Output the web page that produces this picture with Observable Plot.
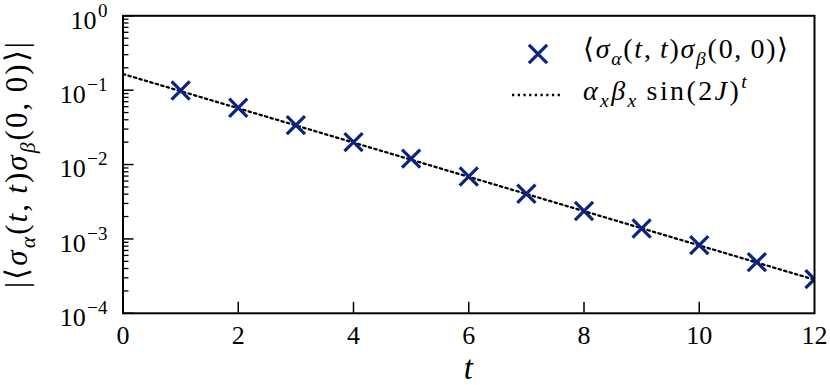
<!DOCTYPE html>
<html><head><meta charset="utf-8">
<script src="https://cdn.jsdelivr.net/npm/d3@7"></script>
<script src="https://cdn.jsdelivr.net/npm/@observablehq/plot@0.6"></script>
<style>
html,body{margin:0;padding:0;background:#fff;}
#chart{position:relative;width:830px;height:385px;}
</style></head><body><div id="chart"></div>
<script>
// ---- data ----
const tValues = [1, 2, 3, 4, 5, 6, 7, 8, 9, 10, 11, 12];
const correlator = [0.0991, 0.0580, 0.0339, 0.0200, 0.0120, 0.00692, 0.00405, 0.00237, 0.00138, 0.000826, 0.000488, 0.000288];
const fitT = [0, 12];
const fitValues = [0.165, 0.000283];
const xTickValues = [0, 2, 4, 6, 8, 10, 12];
const xInnerTicks = [2, 4, 6, 8, 10];
const yTickValues = [1e-4, 1e-3, 1e-2, 1e-1, 1];
const yTickBases = ["10", "10", "10", "10", "10"];
const yTickExponents = ["\u22124", "\u22123", "\u22122", "\u22121", "0"];

// ---- layout ----
const W = 830, H = 385, mL = 122.5, mR = 16, mT = 15.3, mB = 72.2;
const innerW = W - mL - mR, innerH = H - mT - mB;
const markColor = "#0c2380";
const dotR = 8.3;

const yMinor = [];
for (let e = -4; e < 0; e++) for (let k = 2; k <= 9; k++) yMinor.push(k * Math.pow(10, e));

const points = tValues.map((t, i) => ({t, v: correlator[i]}));
const fit = fitT.map((t, i) => ({t, v: fitValues[i]}));

const chart = Plot.plot({
  width: W, height: H,
  marginLeft: mL, marginRight: mR, marginTop: mT, marginBottom: mB,
  style: {background: "#fff", color: "#000", overflow: "visible"},
  x: {domain: [0, 12]},
  y: {type: "log", domain: [1e-4, 1]},
  marks: [
    Plot.ruleY(yMinor, {y: d => d, insetRight: innerW - 6, stroke: "#000", strokeWidth: 1.3}),
    Plot.ruleY(yTickValues, {y: d => d, insetRight: innerW - 11, stroke: "#000", strokeWidth: 1.5}),
    Plot.ruleX(xInnerTicks, {x: d => d, insetTop: innerH - 11, stroke: "#000", strokeWidth: 1.5}),
    Plot.line(fit, {x: "t", y: "v", stroke: "#000", strokeWidth: 2.3, strokeDasharray: "2.3,3.4"}),
    Plot.dot(points, {x: "t", y: "v", symbol: "times", r: dotR, stroke: markColor, strokeWidth: 3.2, clip: true}),
    Plot.frame({stroke: "#000", strokeWidth: 2}),
    Plot.axisX({ticks: xTickValues, tickSize: 0, tickPadding: 12, fontSize: 26, label: null, tickFormat: d => String(d)}),
    Plot.axisY({ticks: yTickValues, tickSize: 0, tickPadding: 15.5, fontSize: 26, label: null, dy: 4.4,
      tickFormat: d => { const i = yTickValues.indexOf(d); return yTickBases[i] + "^" + yTickExponents[i]; }})
  ]
});
// use the page's default (serif) font for every text
chart.removeAttribute("font-family");
chart.style.fontFamily = "inherit";
document.getElementById("chart").appendChild(chart);

const svg = d3.select(chart);
svg.selectAll("[font-family]").attr("font-family", null);

// superscripts on y tick labels
svg.selectAll('g[aria-label="y-axis tick label"] text').each(function() {
  const txt = this.textContent;
  const [base, exp] = txt.split("^");
  const sel = d3.select(this);
  sel.text(null);
  sel.append("tspan").text(base);
  sel.append("tspan").attr("dx", 1.5).attr("dy", -12).attr("font-size", 19).text(exp);
});

// rich math text helper
function appendMath(sel, segs, size) {
  let shift = 0;
  segs.forEach(s => {
    const ts = sel.append("tspan").text(s.t);
    let target = s.sub ? 0.26 * size : s.sup ? -0.42 * size : 0;
    if (target !== shift) { ts.attr("dy", target - shift); shift = target; }
    ts.attr("font-size", (s.sub || s.sup) ? size * 0.7 : size);
    if (s.i) ts.attr("font-style", "italic");
  });
}
// stretch a text to the width it has in the reference
function fitWidth(sel, target) {
  const node = sel.node();
  const n = node.textContent.length;
  const len = node.getComputedTextLength();
  sel.attr("letter-spacing", ((target - len) / n).toFixed(2));
}
const corrSegs = [
  {t: "\u27E8"}, {t: "\u03C3", i: true}, {t: "\u03B1", i: true, sub: true},
  {t: "("}, {t: "t", i: true}, {t: ",\u2009"}, {t: "t", i: true}, {t: ")"},
  {t: "\u03C3", i: true}, {t: "\u03B2", i: true, sub: true},
  {t: "(0,\u20090)\u27E9"}
];

// y label
const ylab = svg.append("text")
  .attr("transform", `translate(26.5,${mT + innerH / 2}) rotate(-90)`)
  .attr("text-anchor", "middle").attr("fill", "#000");
appendMath(ylab, [{t: "|"}, ...corrSegs, {t: "|"}], 31);
fitWidth(ylab, 248);

// x label
svg.append("text").attr("x", mL + innerW / 2).attr("y", 379)
  .attr("text-anchor", "middle").attr("font-size", 33).attr("font-style", "italic")
  .attr("fill", "#000").text("t");

// legend
svg.append("path")
  .attr("d", d3.symbol(d3.symbolTimes, Math.PI * dotR * dotR)())
  .attr("transform", "translate(538,54)")
  .attr("fill", "none").attr("stroke", markColor).attr("stroke-width", 3.2);
const l1 = svg.append("text").attr("x", 583).attr("y", 58).attr("fill", "#000")
  .attr("text-anchor", "start");
appendMath(l1, corrSegs, 28);
fitWidth(l1, 207);
svg.append("line").attr("x1", 512).attr("x2", 563).attr("y1", 95).attr("y2", 95)
  .attr("stroke", "#000").attr("stroke-width", 2.3).attr("stroke-dasharray", "2.3,3.4");
const l2 = svg.append("text").attr("x", 583).attr("y", 100).attr("fill", "#000")
  .attr("text-anchor", "start");
appendMath(l2, [
  {t: "\u03B1", i: true}, {t: "x", i: true, sub: true}, {t: "\u03B2", i: true}, {t: "x", i: true, sub: true},
  {t: "\u2009sin(2"}, {t: "J", i: true}, {t: ")"}, {t: "t", i: true, sup: true}
], 28);
fitWidth(l2, 166);
</script></body></html>
